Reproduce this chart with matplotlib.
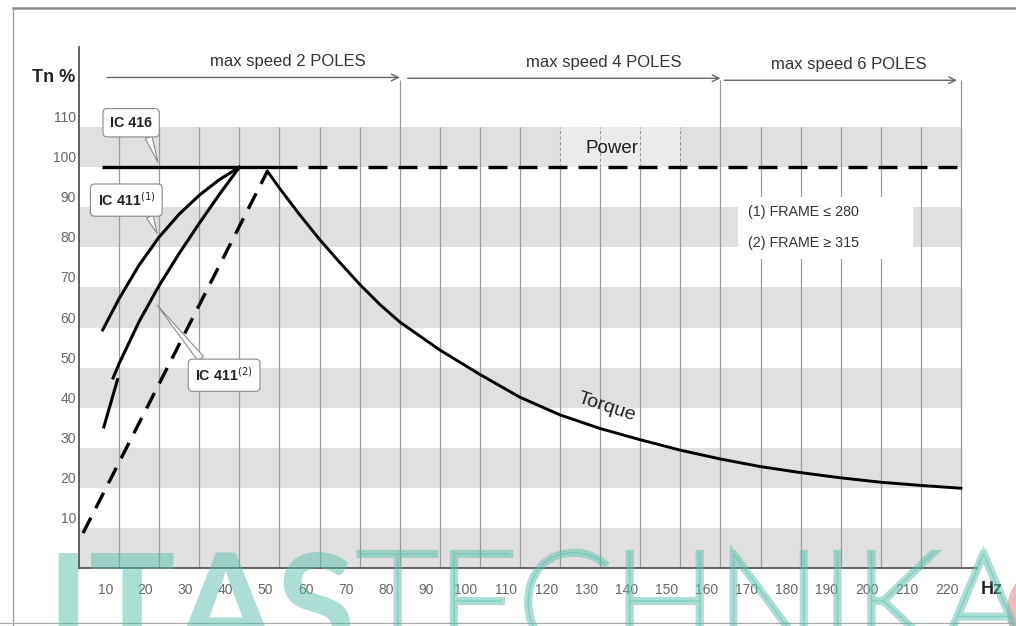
import matplotlib
matplotlib.use('Agg')
import matplotlib.pyplot as plt
import matplotlib.patheffects as pe
from matplotlib.patches import Rectangle, Circle
from matplotlib.lines import Line2D

plt.rcParams['font.family'] = ['Liberation Sans', 'DejaVu Sans']

# ==== DATA ====
hz_ticks = list(range(10, 230, 10))
tn_ticks = list(range(10, 120, 10))
band_starts = [0, 20, 40, 60, 80, 100]
tall_grid = [80, 160, 220]
power_grid = [120, 130, 140, 150]

# torque above base speed (constant power zone)
torque_hz = [47, 50, 55, 60, 65, 70, 75, 80, 90, 100, 110, 120, 130, 140,
             150, 160, 170, 180, 190, 200, 210, 220]
torque_pct = [99, 94.8, 88.2, 82.0, 76.3, 70.8, 65.8, 61.4, 54.4, 48.3, 42.6,
              38.2, 34.8, 32.0, 29.4, 27.2, 25.3, 23.8, 22.5, 21.4, 20.6, 19.9]

ic416_hz = [5.7, 54.5]
ic416_pct = [100, 100]
power_hz = [54.5, 220]
power_pct = [100, 100]

ic411_1_hz = [5.9, 10, 15, 20, 25, 30, 35, 40]
ic411_1_pct = [59.4, 67.2, 75.6, 82.6, 88.3, 93.0, 96.9, 100]

ic411_2_hz = [8.5, 10, 15, 20, 25, 30, 35, 40]
ic411_2_pct = [47.4, 51, 61.5, 70.5, 78.5, 86, 93.2, 100]
ic411_2_low_hz = [9.6, 6.2]
ic411_2_low_pct = [47, 35.2]

fan_hz = [1, 47]
fan_pct = [8.7, 99]

pole_labels = ['max speed 2 POLES', 'max speed 4 POLES', 'max speed 6 POLES']
pole_start = [7, 82, 161]
pole_end = [80, 160, 219]
pole_y = [122.4, 122.2, 121.7]
pole_label_x = [52, 131, 192]

frame_notes = ['(1) FRAME ≤ 280', '(2) FRAME ≥ 315']

# ==== PLOT ====
fig = plt.figure(figsize=(10.16, 6.26), dpi=100)
ax = fig.add_axes([79 / 1016, 1 - 568 / 626, 898 / 1016, 521 / 626])
ax.set_xlim(0, 224)
ax.set_ylim(0, 130)
ax.set_xticks([])
ax.set_yticks([])
for s in ['top', 'right']:
    ax.spines[s].set_visible(False)
for s in ['left', 'bottom']:
    ax.spines[s].set_color('#555555')
    ax.spines[s].set_linewidth(1.3)

# gray bands
for b in band_starts:
    ax.fill_between([0, 220], b, b + 10, color='#e0e0e0', lw=0, zorder=0.5)
ax.add_patch(Rectangle((120, 100), 30, 10, fc='#ebebeb', ec='none', zorder=0.6))

# vertical grid
for h in hz_ticks:
    top = 121.7 if h in tall_grid else 110
    if h in power_grid:
        ax.vlines(h, 0, 100, color='#9a9a9a', lw=0.9, zorder=1)
        ax.vlines(h, 100, 110, color='#9a9a9a', lw=0.8, ls=(0, (3, 2)), zorder=1)
    else:
        ax.vlines(h, 0, top, color='#9a9a9a', lw=0.9, zorder=1)

# white box for frame notes
ax.add_patch(Rectangle((164.5, 77), 43.5, 15.5, fc='white', ec='none', zorder=2))
ax.text(167, 88.8, frame_notes[0], fontsize=10.3, color='#333333', va='center', zorder=2.5)
ax.text(167, 81.2, frame_notes[1], fontsize=10.3, color='#333333', va='center', zorder=2.5)

# curves
ax.plot(ic416_hz, ic416_pct, color='black', lw=2.4, solid_capstyle='butt', zorder=3)
ax.plot(power_hz, power_pct, color='black', lw=2.4, ls=(5.7, (5.7, 3.3)), zorder=3)
ax.plot(ic411_1_hz, ic411_1_pct, color='black', lw=2.2, zorder=3)
ax.plot(ic411_2_hz, ic411_2_pct, color='black', lw=2.2, zorder=3)
ax.plot(ic411_2_low_hz, ic411_2_low_pct, color='black', lw=2.2, zorder=3)
ax.plot(fan_hz, fan_pct, color='black', lw=2.4, ls=(0, (5.2, 3.2)), zorder=3)
ax.plot(torque_hz, torque_pct, color='black', lw=2.1, zorder=3)

ax.text(131.7, 40.1, 'Torque', fontsize=14, rotation=-18, ha='center', va='center',
        color='#222222', zorder=3)
ax.text(133, 104.7, 'Power', fontsize=13.5, ha='center', va='center', color='#222222',
        zorder=3)

# top arrows and labels
for lab, x0, x1, y, lx in zip(pole_labels, pole_start, pole_end, pole_y, pole_label_x):
    ax.annotate('', xy=(x1, y), xytext=(x0, y),
                arrowprops=dict(arrowstyle='->', color='#666666', lw=1,
                                shrinkA=0, shrinkB=0, mutation_scale=12))
    ax.text(lx, y + 3.9, lab, fontsize=12, ha='center', va='center', color='#333333')

# callouts
box = dict(boxstyle='round,pad=0.5,rounding_size=0.3', fc='white', ec='#8a8a8a', lw=0.8)


def callout(txt, tip, pos, rel):
    ax.annotate(txt, xy=tip, xytext=pos, ha='center', va='center', fontsize=10.3,
                fontweight='bold', color='#222222', bbox=box, zorder=4,
                arrowprops=dict(arrowstyle='wedge,tail_width=0.5,shrink_factor=0.5',
                                fc='white', ec='#8a8a8a', lw=0.8, relpos=rel,
                                shrinkA=0, shrinkB=0))


callout('IC 416', (19.7, 101.2), (13, 111.1), (0.85, 0.0))
callout('IC 411$^{(1)}$', (19.5, 83.5), (11.8, 91.8), (0.85, 0.0))
callout('IC 411$^{(2)}$', (19.5, 65.6), (36.2, 48.1), (0.2, 1.0))

# tick labels (sit a little off the grid lines, as in the original)
for h in hz_ticks:
    ax.annotate(str(h), xy=(h, 0), xytext=(-10, -16), textcoords='offset points',
                ha='center', va='center', fontsize=10, color='#666666',
                annotation_clip=False)
for t in tn_ticks:
    ax.annotate(str(t), xy=(0, t), xytext=(-2, 6.5), textcoords='offset points',
                ha='right', va='center', fontsize=10, color='#666666',
                annotation_clip=False)

fig.text(54 / 1016, 1 - 77 / 626, 'Tn %', fontsize=13, fontweight='bold',
         ha='center', va='center', color='#222222')
fig.text(992 / 1016, 1 - 590 / 626, 'Hz', fontsize=13, fontweight='bold',
         ha='center', va='center', color='#222222')

# frame
fig.add_artist(Line2D([13 / 1016, 1], [1 - 8 / 626, 1 - 8 / 626], color='#8c8c8c', lw=1.8))
fig.add_artist(Line2D([13 / 1016, 13 / 1016], [1 - 8 / 626, 0], color='#999999', lw=0.9))
fig.add_artist(Line2D([0, 1], [1 - 623 / 626, 1 - 623 / 626], color='#aaaaaa', lw=0.9))

# watermark
wm_color = '#5cbfae'
fig.text(46 / 1016, -0.05, 'ITAS', fontsize=104, family=['Lato', 'DejaVu Sans'],
         fontweight='bold', color=wm_color, alpha=0.5, va='baseline', zorder=10)
fig.text(358 / 1016, -0.039, 'TECHNIKA', fontsize=100, family=['Lato', 'DejaVu Sans'],
         fontweight='light', color=wm_color, alpha=0.5, va='baseline', zorder=10,
         path_effects=[pe.Stroke(linewidth=4.8, foreground=wm_color, alpha=0.5,
                                 joinstyle='miter', capstyle='butt')])
fig.add_artist(Circle((10.52, 0.16), 0.45, transform=fig.dpi_scale_trans,
                      fc='#f0a8a8', ec='none', alpha=0.8, zorder=10))

fig.savefig('out.png', dpi=100, facecolor='white')
